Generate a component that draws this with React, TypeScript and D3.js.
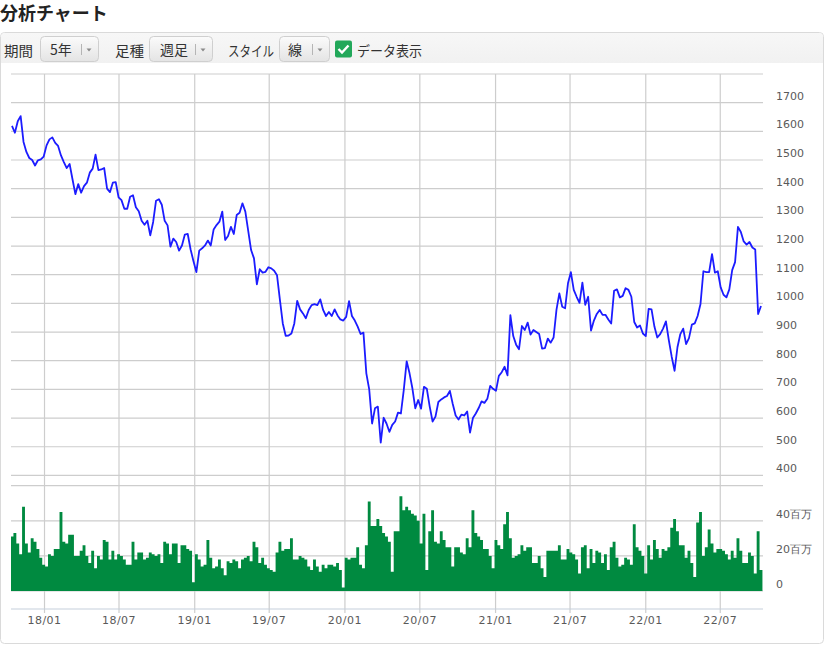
import React from "react";
import * as d3 from "d3";

// ---- data (weekly) ----
const startDate = "2017-10-14";

const prices: number[] = [
  1619,1595,1635,1653,1563,1528,1507,1500,1481,1499,
  1502,1512,1551,1572,1579,1560,1549,1516,1493,1472,
  1486,1433,1381,1416,1386,1409,1421,1456,1470,1519,
  1465,1467,1472,1400,1388,1421,1423,1370,1360,1330,
  1330,1372,1377,1335,1321,1288,1274,1288,1237,1284,
  1358,1363,1344,1288,1272,1198,1226,1214,1184,1202,
  1240,1242,1188,1147,1109,1184,
  1192,1202,1219,1202,1258,1273,1285,1320,1221,1235,
  1267,1242,1308,1316,1349,1320,1253,1186,1157,1066,
  1119,1107,1110,1126,1122,1114,1098,1012,930,887,
  888,895,930,1009,979,965,948,977,994,997,
  994,1014,977,956,970,956,979,958,944,940,
  953,1008,956,940,919,893,898,756,700,581,
  634,640,514,601,581,
  552,576,588,619,616,698,798,756,703,634,
  663,633,709,702,640,588,605,656,665,672,
  677,695,649,609,595,612,609,623,549,600,
  616,635,658,653,667,712,702,695,747,760,
  779,749,959,886,856,840,921,907,933,891,
  907,900,893,842,844,877,863,881,977,1035,
  988,983,1070,1109,1047,
  1023,
  1002,1072,995,1023,905,940,963,977,960,960,
  944,930,1044,1049,1021,1026,1053,1047,1023,935,
  916,923,895,886,981,979,919,881,893,912,
  937,872,814,765,847,893,912,858,879,926,
  930,956,998,1112,1109,1109,1172,1107,1112,1056,
  1030,1021,1049,1116,1144,1267,1249,1216,1205,1214,
  1195,1188,963,991,
];

// volume in millions of shares
const volumes: number[] = [
  31,33,27,21,48,27,22,30,28,24,
  19,15,14,21,20,24,24,45,28,27,
  32,32,20,20,23,26,20,16,23,13,
  20,18,29,28,18,23,18,21,20,
  18,15,15,28,18,22,22,18,19,
  22,21,20,21,16,28,27,21,27,27,
  16,26,26,24,23,5,21,18,14,
  15,29,19,13,14,18,13,9,17,16,
  18,17,13,18,19,20,17,28,25,16,
  19,15,13,12,11,22,28,23,24,
  24,30,18,18,20,19,18,14,12,
  18,14,11,15,13,15,15,14,16,12,
  2,19,18,19,19,25,15,13,26,51,
  37,37,41,37,33,31,28,11,34,34,
  54,46,48,46,44,43,
  40,27,44,12,34,46,28,27,34,29,
  25,25,14,25,25,22,21,30,25,46,
  33,31,29,24,24,20,13,29,26,24,
  38,45,30,19,20,21,26,23,25,
  25,16,16,20,13,8,23,23,23,23,
  26,18,18,24,22,21,18,10,25,26,
  13,24,16,23,22,16,21,12,25,
  28,19,14,15,19,18,15,38,25,
  23,20,10,26,18,29,24,19,24,
  23,25,36,41,34,26,26,19,23,
  16,8,39,45,20,25,35,27,22,24,
  24,23,21,18,23,19,30,23,16,
  16,22,20,10,34,12,
];

const priceTicks = [400, 500, 600, 700, 800, 900, 1000, 1100, 1200, 1300, 1400, 1500, 1600, 1700];
const priceGrid = [400, 500, 600, 700, 800, 900, 1000, 1100, 1200, 1300, 1400, 1500, 1600, 1700, 1800];
const volGrid = [0, 20, 40, 60];
const volTicks = [0, 20, 40];
const volTickLabels = ["0", "20百万", "40百万"];

const title = "分析チャート";

// ---- layout ----
const W = 831;
const H = 648;
const plotL = 11;
const plotR = 763;

const FONT = "'DejaVu Sans', Verdana, sans-serif";
const JFONT = "'Noto Sans CJK JP', 'Noto Sans', sans-serif";

export default function App() {
  const t0 = d3.timeParse("%Y-%m-%d")(startDate) as Date;
  const dates = prices.map((_, i) => d3.timeDay.offset(t0, 7 * i));
  const x = d3.scaleTime().domain([dates[0], dates[dates.length - 1]]).range([12, 761]);
  const yP = d3.scaleLinear().domain([400, 1800]).range([475.4, 74]);
  const yV = d3.scaleLinear().domain([0, 60]).range([591, 485.7]);

  const line = d3
    .line<number>()
    .x((_, i) => x(dates[i]))
    .y((d) => yP(d));

  const bw = x(dates[1]) - x(dates[0]);

  // volume bars as one step polygon (no seams between adjacent bars)
  const barPath = d3.path();
  volumes.forEach((v, i) => {
    const l = Math.max(plotL, x(dates[i]) - bw / 2);
    const r = Math.min(plotR, x(dates[i]) + bw / 2);
    if (i === 0) barPath.moveTo(l, yV(0));
    barPath.lineTo(l, yV(v));
    barPath.lineTo(r, yV(v));
    if (i === volumes.length - 1) barPath.lineTo(r, yV(0));
  });
  barPath.closePath();

  const monthTicks = d3.timeMonth
    .every(6)!
    .range(new Date(2018, 0, 1), dates[dates.length - 1]);
  const fmt = d3.timeFormat("%y/%m");

  const gridColor = "#cdcdcd";
  const labelColor = "#5a5a5a";

  const buttons = [
    { x: 40.5, w: 58, text: "5年", tx: 50 },
    { x: 149.5, w: 63, text: "週足", tx: 160 },
    { x: 279.5, w: 50, text: "線", tx: 288 },
  ];
  const toolbarLabels = [
    { x: 4, w: 29, text: "期間" },
    { x: 115, w: 29, text: "足種" },
    { x: 228, w: 46, text: "スタイル" },
    { x: 357, w: 65, text: "データ表示" },
  ];

  return (
    <svg
      width={W}
      height={H}
      style={{ position: "absolute", left: 0, top: 0, background: "#fff" }}
    >
      <defs>
        <linearGradient id="btn" x1="0" y1="0" x2="0" y2="1">
          <stop offset="0" stopColor="#fbfbfb" />
          <stop offset="1" stopColor="#e4e4e4" />
        </linearGradient>
        <linearGradient id="tb" x1="0" y1="0" x2="0" y2="1">
          <stop offset="0" stopColor="#f7f7f7" />
          <stop offset="1" stopColor="#f1f1f1" />
        </linearGradient>
      </defs>

      {/* title */}
      <text x={0} y={20} fontFamily={JFONT} fontWeight="bold" fontSize={18} fill="#222">
        {title}
      </text>

      {/* panel */}
      <rect x={0.5} y={32.5} width={823} height={611} rx={4} fill="#fff" stroke="#dadada" />
      <path d="M1,63 L1,37 Q1,33 5,33 L819,33 Q823,33 823,37 L823,63 Z" fill="url(#tb)" />

      {/* toolbar */}
      {toolbarLabels.map((l) => (
        <text
          key={l.text}
          x={l.x}
          y={55.5}
          fontFamily={JFONT}
          fontSize={14}
          fill="#333"
          textLength={l.w}
          lengthAdjust="spacingAndGlyphs"
        >
          {l.text}
        </text>
      ))}
      {buttons.map((b) => (
        <g key={b.text}>
          <rect x={b.x} y={36.5} width={b.w} height={25} rx={4} fill="url(#btn)" stroke="#cfcfcf" />
          <text x={b.tx} y={55} fontFamily={JFONT} fontSize={14} fill="#333">
            {b.text}
          </text>
          <line x1={b.x + b.w - 17} x2={b.x + b.w - 17} y1={44} y2={55} stroke="#b5b5b5" />
          <path
            d={`M${b.x + b.w - 12},48.5 L${b.x + b.w - 7},48.5 L${b.x + b.w - 9.5},51.5 Z`}
            fill="#8a8a8a"
          />
        </g>
      ))}
      <rect x={335} y={40.5} width={17} height={17} rx={2} fill="#22a85a" />
      <path d="M338.5,49 L342,52.5 L348.5,45.5" fill="none" stroke="#fff" strokeWidth={2.4} />

      {/* horizontal grid - price */}
      {priceGrid.map((v) => (
        <line key={"pg" + v} x1={plotL} x2={plotR} y1={yP(v)} y2={yP(v)} stroke={gridColor} strokeWidth={1.2} />
      ))}
      {/* horizontal grid - volume */}
      {volGrid.map((v) => (
        <line key={"vg" + v} x1={plotL} x2={plotR} y1={yV(v)} y2={yV(v)} stroke={gridColor} strokeWidth={1.2} />
      ))}
      {/* vertical grid */}
      {monthTicks.map((d) => (
        <line
          key={"vx" + d.getTime()}
          x1={x(d)}
          x2={x(d)}
          y1={74}
          y2={613}
          stroke={gridColor}
          strokeWidth={1.2}
        />
      ))}
      {/* bottom axis line */}
      <line x1={plotL} x2={plotR} y1={609} y2={609} stroke="#c5d0dc" strokeWidth={1.2} />

      {/* volume bars */}
      <path d={barPath.toString()} fill="#008a40" />

      {/* price line */}
      <path d={line(prices) || ""} fill="none" stroke="#1c1cff" strokeWidth={1.8} strokeLinejoin="round" />

      {/* price labels */}
      {priceTicks.map((v) => (
        <text key={"pl" + v} x={776} y={yP(v) - 3} fontFamily={FONT} fontSize={11} fill={labelColor}>
          {v}
        </text>
      ))}
      {/* volume labels */}
      {volTicks.map((v, i) => (
        <text key={"vl" + v} x={776} y={yV(v) - 3} fontFamily={FONT} fontSize={11} fill={labelColor}>
          {volTickLabels[i]}
        </text>
      ))}
      {/* x labels */}
      {monthTicks.map((d) => (
        <text
          key={"xl" + d.getTime()}
          x={x(d)}
          y={624}
          textAnchor="middle"
          fontFamily={FONT}
          fontSize={11}
          letterSpacing={0.5}
          fill={labelColor}
        >
          {fmt(d)}
        </text>
      ))}
    </svg>
  );
}
